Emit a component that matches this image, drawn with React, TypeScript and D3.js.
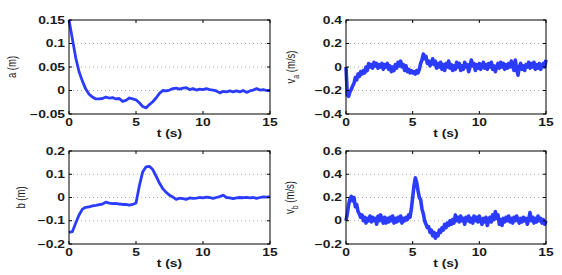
import React from 'react';
import * as d3 from 'd3';

// sampling grids (s)
const tCoarse = d3.range(0, 15.001, 0.25);
const tFine = d3.range(0, 15.001, 0.1);

// a (m), every 0.25 s
const aValues = [
  0.15, 0.11, 0.07, 0.04, 0.02, 0.003, -0.008, -0.014, -0.018, -0.018,
  -0.017, -0.014, -0.016, -0.015, -0.018, -0.017, -0.023, -0.021, -0.016, -0.018,
  -0.02, -0.026, -0.034, -0.037, -0.03, -0.024, -0.016, -0.006, 0.0, -0.001,
  0.001, 0.004, 0.005, 0.003, 0.005, 0.006, 0.002, 0.004, 0.001, 0.003,
  0.002, 0.004, 0.002, 0.001, -0.001, -0.005, -0.002, -0.003, -0.001, -0.003,
  -0.001, -0.003, 0.0, -0.004, -0.001, 0.001, 0.004, 0.001, 0.002, 0.0,
  0.0,
];

// b (m), every 0.25 s
const bValues = [
  -0.15, -0.147, -0.11, -0.075, -0.05, -0.042, -0.04, -0.036, -0.034, -0.031,
  -0.028, -0.02, -0.024, -0.026, -0.025, -0.028, -0.03, -0.03, -0.033, -0.03,
  -0.024, 0.05, 0.11, 0.132, 0.134, 0.12, 0.092, 0.062, 0.038, 0.022,
  0.01, 0.002, -0.008, -0.003, -0.005, -0.008, -0.002, -0.004, -0.003, 0.0,
  -0.002, 0.002, 0.0, -0.004, 0.0, 0.004, 0.01, 0.0, -0.002, -0.005,
  -0.002, 0.0, -0.001, 0.001, -0.002, 0.0, -0.004, 0.0, 0.003, 0.002,
  0.004,
];

// v_a (m/s), every 0.1 s
const vaValues = [
  0.0, -0.24, -0.25, -0.21, -0.19, -0.16, -0.14, -0.09, -0.11, -0.06,
  -0.08, -0.04, -0.06, -0.03, -0.05, 0.0, -0.03, 0.03, 0.0, 0.02,
  -0.01, 0.04, 0.01, 0.03, -0.01, 0.02, 0.0, 0.03, -0.02, 0.02,
  0.0, 0.03, -0.02, 0.01, -0.04, 0.0, -0.03, 0.02, -0.01, 0.04,
  0.01, 0.05, 0.0, 0.02, -0.03, 0.01, -0.04, -0.02, -0.05, -0.03,
  -0.05, -0.04, -0.06, -0.03, -0.05, -0.02, 0.03, 0.06, 0.11, 0.07,
  0.09, 0.03, 0.05, 0.01, 0.04, 0.07, 0.02, 0.05, -0.01, 0.03,
  0.0, 0.04, -0.02, 0.02, -0.03, 0.03, 0.0, 0.05, -0.01, 0.02,
  -0.03, 0.01, -0.02, 0.04, 0.0, 0.03, -0.03, 0.01, -0.02, 0.04,
  0.0, 0.02, -0.04, 0.0, 0.06, 0.01, 0.03, -0.03, 0.02, -0.01,
  0.03, -0.02, 0.01, 0.04, -0.01, 0.02, -0.02, 0.03, 0.0, 0.04,
  -0.02, 0.01, -0.04, 0.0, 0.03, -0.01, 0.04, 0.0, 0.03, -0.02,
  0.02, -0.01, 0.03, 0.0, 0.05, 0.01, -0.03, 0.06, -0.02, -0.07,
  0.0, 0.03, -0.02, 0.01, -0.03, 0.02, 0.0, 0.04, -0.01, 0.03,
  0.0, 0.04, -0.02, 0.02, -0.01, 0.03, -0.02, 0.01, 0.03, 0.0,
  0.06,
];

// v_b (m/s), every 0.1 s
const vbValues = [
  0.0, 0.06, 0.14, 0.19, 0.21, 0.17, 0.2, 0.12, 0.14, 0.08,
  0.06, 0.03, 0.05, 0.0, 0.03, -0.02, 0.02, 0.0, 0.04, -0.01,
  0.03, 0.0, 0.02, -0.03, 0.04, 0.0, 0.05, 0.01, -0.02, 0.03,
  -0.02, 0.02, -0.01, 0.03, 0.0, 0.04, -0.02, 0.02, -0.01, 0.03,
  0.0, 0.04, -0.02, 0.02, 0.0, 0.03, 0.01, 0.05, 0.03, 0.1,
  0.2, 0.3, 0.37, 0.33, 0.26, 0.2, 0.18, 0.1, 0.06, 0.0,
  -0.03, -0.06, -0.05, -0.1, -0.08, -0.13, -0.1, -0.15, -0.11, -0.13,
  -0.08, -0.1, -0.06, -0.08, -0.03, -0.06, -0.02, -0.04, 0.0, -0.03,
  0.01, -0.02, 0.05, 0.0, 0.03, -0.01, 0.04, 0.0, 0.02, -0.03,
  0.03, 0.0, 0.04, -0.01, 0.02, -0.02, 0.04, 0.0, 0.03, -0.01,
  0.04, 0.0, -0.03, 0.02, -0.01, 0.03, -0.04, 0.0, 0.03, -0.01,
  0.05, 0.01, 0.08, 0.02, 0.05, -0.03, 0.01, -0.04, 0.02, -0.01,
  0.03, 0.0, 0.04, -0.01, 0.02, -0.02, 0.03, 0.0, 0.04, 0.01,
  -0.02, 0.02, -0.01, 0.03, 0.0, 0.02, -0.03, 0.01, 0.07, 0.0,
  0.03, -0.02, 0.02, -0.01, 0.04, 0.0, 0.02, -0.02, 0.01, -0.03,
  0.0,
];

const xTicks = [0, 5, 10, 15];

const panels = [
  { t: tCoarse, v: aValues, yTicks: [-0.05, 0, 0.05, 0.1, 0.15], label: 'a', sub: '', unit: '(m)',
    box: [69, 20, 270, 114], labelX: 13, width: 2.8 },
  { t: tFine, v: vaValues, yTicks: [-0.4, -0.2, 0, 0.2, 0.4], label: 'v', sub: 'a', unit: '(m/s)',
    box: [346, 20, 546, 114], labelX: 292, width: 3.6 },
  { t: tCoarse, v: bValues, yTicks: [-0.2, -0.1, 0, 0.1, 0.2], label: 'b', sub: '', unit: '(m)',
    box: [69, 151, 270, 244], labelX: 22, width: 2.8 },
  { t: tFine, v: vbValues, yTicks: [-0.2, 0, 0.2, 0.4, 0.6], label: 'v', sub: 'b', unit: '(m/s)',
    box: [346, 151, 546, 244], labelX: 291, width: 3.6 },
];

const font = 'Liberation Sans, Arial, Helvetica, sans-serif';
const stretch = 1.38;
const fmt = d3.format('');

const Panel = ({ p }) => {
  const [x0, y0, x1, y1] = p.box;
  const x = d3.scaleLinear().domain([0, 15]).range([x0, x1]);
  const ext = [p.yTicks[0], p.yTicks[p.yTicks.length - 1]];
  const y = d3.scaleLinear().domain(ext).range([y1, y0]);
  const line = d3.line<number>().x((_, i) => x(p.t[i])).y((d) => y(d));
  const tk = 3;
  const midY = (y0 + y1) / 2;
  return (
    <g fontFamily={font} fill="#1a1a1a" fontWeight={600}>
      {p.yTicks.slice(1, -1).map((d) => (
        <line key={'g' + d} x1={x0} x2={x1} y1={y(d)} y2={y(d)} stroke="#999" strokeWidth={0.8} strokeDasharray="1,3" />
      ))}
      <path d={line(p.v) || ''} fill="none" stroke="#2b3bff" strokeWidth={p.width} strokeLinejoin="round" />
      <rect x={x0} y={y0} width={x1 - x0} height={y1 - y0} fill="none" stroke="#000" strokeWidth={1} />
      {xTicks.map((d) => (
        <g key={'x' + d}>
          <line x1={x(d)} x2={x(d)} y1={y1} y2={y1 - tk} stroke="#000" />
          <line x1={x(d)} x2={x(d)} y1={y0} y2={y0 + tk} stroke="#000" />
          <text transform={`translate(${x(d)},${y1 + 12}) scale(${stretch},1)`} textAnchor="middle" fontSize={10}>{d}</text>
        </g>
      ))}
      {p.yTicks.map((d) => (
        <g key={'y' + d}>
          <line x1={x0} x2={x0 + tk} y1={y(d)} y2={y(d)} stroke="#000" />
          <line x1={x1} x2={x1 - tk} y1={y(d)} y2={y(d)} stroke="#000" />
          <text transform={`translate(${x0 - 4},${y(d) + 3.5}) scale(${stretch},1)`} textAnchor="end" fontSize={10}>{fmt(d)}</text>
        </g>
      ))}
      <text transform={`translate(${(x0 + x1) / 2},${y1 + 23}) scale(${stretch},1)`} textAnchor="middle" fontSize={10}>t (s)</text>
      <text transform={`translate(${p.labelX + 3},${midY}) scale(${stretch},1) rotate(-90)`} textAnchor="middle" fontSize={9.5} fontWeight={400}>
        {p.label}
        {p.sub ? <tspan fontSize={7} dy={3}>{p.sub}</tspan> : null}
        <tspan dy={p.sub ? -3 : 0}>{' ' + p.unit}</tspan>
      </text>
    </g>
  );
};

export default function App() {
  return (
    <svg width={562} height={275} style={{ position: 'absolute', left: 0, top: 0, background: '#fff' }}>
      <rect width={562} height={275} fill="#fff" />
      {panels.map((p, i) => <Panel key={i} p={p} />)}
    </svg>
  );
}
